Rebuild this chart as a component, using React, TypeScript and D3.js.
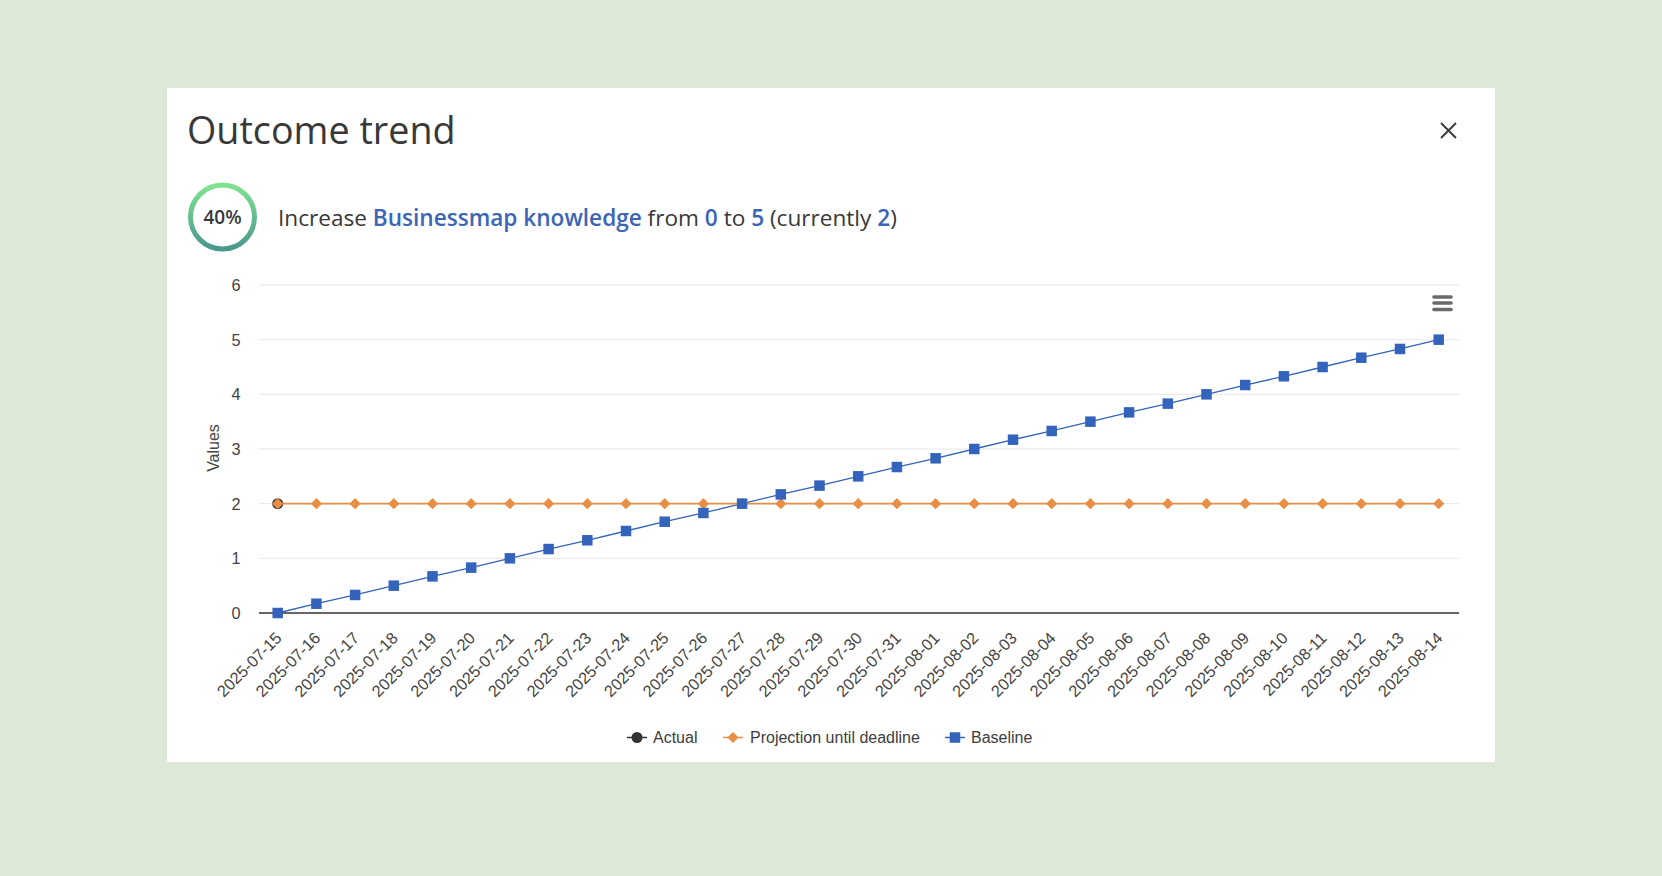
import React, { useEffect } from "react";
import * as d3 from "d3";

const categories = [
  "2025-07-15","2025-07-16","2025-07-17","2025-07-18","2025-07-19","2025-07-20","2025-07-21","2025-07-22",
  "2025-07-23","2025-07-24","2025-07-25","2025-07-26","2025-07-27","2025-07-28","2025-07-29","2025-07-30",
  "2025-07-31","2025-08-01","2025-08-02","2025-08-03","2025-08-04","2025-08-05","2025-08-06","2025-08-07",
  "2025-08-08","2025-08-09","2025-08-10","2025-08-11","2025-08-12","2025-08-13","2025-08-14",
];
const actual = [2];
const projection = [2,2,2,2,2,2,2,2,2,2,2,2,2,2,2,2,2,2,2,2,2,2,2,2,2,2,2,2,2,2,2];
const baseline = [
  0,0.17,0.33,0.5,0.67,0.83,1,1.17,1.33,1.5,1.67,1.83,2,2.17,2.33,2.5,
  2.67,2.83,3,3.17,3.33,3.5,3.67,3.83,4,4.17,4.33,4.5,4.67,4.83,5,
];
const yTicks = [0,1,2,3,4,5,6];
const BLUE = "#3463bb";
const ORANGE = "#e88f45";
const DARK = "#333333";
const LINK = "#3b66b5";
const sans = "'Open Sans', sans-serif";
const chartFont = "'Liberation Sans', Arial, sans-serif";

export default function App() {
  useEffect(() => { document.body.style.margin = "0"; document.body.style.overflow = "hidden"; }, []);
  const x = d3.scalePoint<string>().domain(categories).range([277.7, 1438.7]);
  const y = d3.scaleLinear().domain([0, 6]).range([613, 285]);
  const line = (vals: number[]) =>
    d3.line<number>().x((_, i) => x(categories[i])!).y((d) => y(d))(vals) ?? "";
  const diamond = d3.symbol().type(d3.symbolDiamond2).size(80)() ?? "";
  return (
    <svg width={1662} height={876} style={{ display: "block" }}>
      <defs>
        <linearGradient id="ring" x1="0" y1="0" x2="0" y2="1">
          <stop offset="0" stopColor="#7fe38f" />
          <stop offset="1" stopColor="#4a978e" />
        </linearGradient>
      </defs>
      <rect width={1662} height={876} fill="#dde9d6" />
      <rect x={167} y={88} width={1328} height={674} fill="#ffffff" />
      <text x={187} y={143.5} fontFamily={sans} fontSize={37.7} fill="#383838">Outcome trend</text>
      <g stroke="#3a3a3a" strokeWidth={2} fill="none">
        <line x1={1441} y1={123} x2={1456} y2={138} />
        <line x1={1456} y1={123} x2={1441} y2={138} />
      </g>
      <circle cx={222.5} cy={217} r={32} fill="none" stroke="url(#ring)" strokeWidth={5} />
      <text x={222.5} y={224} textAnchor="middle" fontFamily={sans} fontSize={19} fontWeight={600} fill="#383838">40%</text>
      <text x={278} y={225.5} fontFamily={sans} fontSize={22.6} fill="#383838">
        Increase <tspan fill={LINK} fontWeight={600}>Businessmap knowledge</tspan> from <tspan fill={LINK} fontWeight={600}>0</tspan> to <tspan fill={LINK} fontWeight={600}>5</tspan> (currently <tspan fill={LINK} fontWeight={600}>2</tspan>)
      </text>

      {yTicks.map((t) => (
        <g key={t}>
          <line x1={259} x2={1459} y1={y(t)} y2={y(t)} stroke={t === 0 ? "#333333" : "#e6e6e6"} strokeWidth={t === 0 ? 1.5 : 1} />
          <text x={240.5} y={y(t) + 6} textAnchor="end" fontFamily={chartFont} fontSize={16.3} fill="#444444">{t}</text>
        </g>
      ))}
      <text transform="translate(218.5,448) rotate(-90)" textAnchor="middle" fontFamily={chartFont} fontSize={16} fill="#444444">Values</text>
      {categories.map((c) => (
        <text key={c} transform={`translate(${x(c)! + 5},${639}) rotate(-45)`} textAnchor="end" fontFamily={chartFont} fontSize={16.3} fill="#444444">{c}</text>
      ))}

      <path d={line(baseline)} fill="none" stroke={BLUE} strokeWidth={1.3} />
      <path d={line(projection)} fill="none" stroke={ORANGE} strokeWidth={1.6} />
      {actual.map((v, i) => (
        <circle key={i} cx={x(categories[i])!} cy={y(v)} r={5.5} fill={DARK} />
      ))}
      {projection.map((v, i) => (
        <path key={i} d={diamond} transform={`translate(${x(categories[i])!},${y(v)})`} fill={ORANGE} />
      ))}
      {baseline.map((v, i) => (
        <rect key={i} x={x(categories[i])! - 5.25} y={y(v) - 5.25} width={10.5} height={10.5} fill={BLUE} />
      ))}

      <g stroke="#6a6a6a" strokeWidth={3.6} strokeLinecap="round">
        <line x1={1434} x2={1451} y1={297} y2={297} />
        <line x1={1434} x2={1451} y1={303} y2={303} />
        <line x1={1434} x2={1451} y1={309.5} y2={309.5} />
      </g>

      <g fontFamily={chartFont} fontSize={16} fill="#3c3c3c">
        <line x1={627} x2={647} y1={737.5} y2={737.5} stroke={DARK} strokeWidth={1.5} />
        <circle cx={637} cy={737.5} r={5.5} fill={DARK} />
        <text x={653} y={743}>Actual</text>
        <line x1={723} x2={743} y1={737.5} y2={737.5} stroke={ORANGE} strokeWidth={1.5} />
        <path d={diamond} transform="translate(733,737.5)" fill={ORANGE} />
        <text x={750} y={743}>Projection until deadline</text>
        <line x1={945} x2={965} y1={737.5} y2={737.5} stroke={BLUE} strokeWidth={1.5} />
        <rect x={949.75} y={732.25} width={10.5} height={10.5} fill={BLUE} />
        <text x={971} y={743}>Baseline</text>
      </g>
    </svg>
  );
}
